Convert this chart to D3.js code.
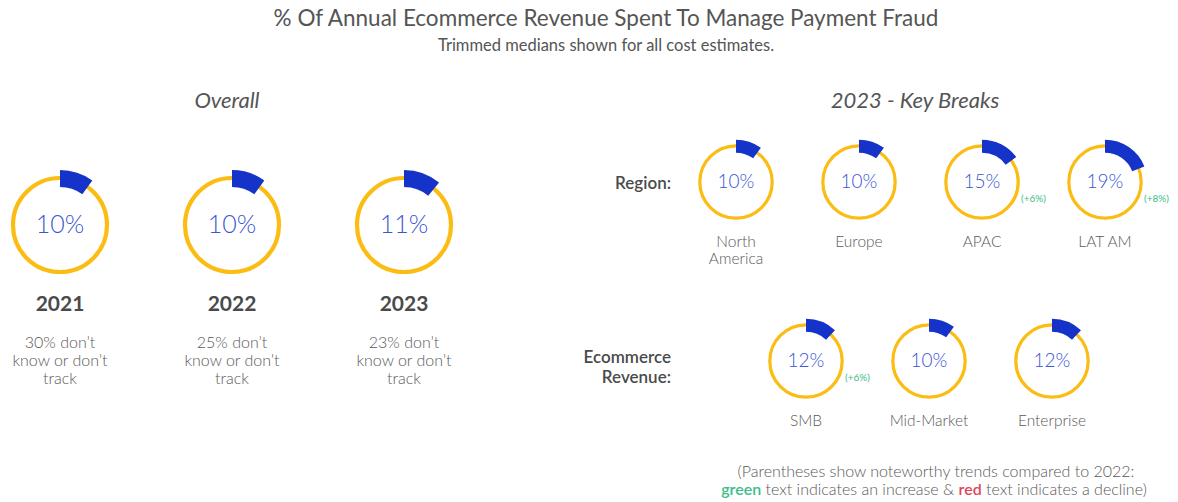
<!DOCTYPE html>
<html>
<head>
<meta charset="utf-8">
<script src="https://cdn.jsdelivr.net/npm/d3@7"></script>
<style>
  body { margin: 0; background: #fff; }
  svg text { font-family: Lato, "Open Sans", sans-serif; }
</style>
</head>
<body>
<svg id="chart" width="1178" height="502"></svg>
<script>
const width = 1178, height = 502;

// overall, by year
const years = ["2021", "2022", "2023"];
const overallValues = [10, 10, 11];
const dontKnow = ["30%", "25%", "23%"];

// 2023 key breaks
const regions = ["North America", "Europe", "APAC", "LAT AM"];
const regionValues = [10, 10, 15, 19];
const regionTrends = [null, null, "+6%", "+8%"];

const revenueBands = ["SMB", "Mid-Market", "Enterprise"];
const revenueValues = [12, 10, 12];
const revenueTrends = ["+6%", null, null];

const yellow = "#FBBC14", blue = "#1533C9", pctBlue = "#3A55D6",
      green = "#3CBD8A", red = "#E2445C", grey = "#595959";

const svg = d3.select("#chart");

const angle = d3.scaleLinear().domain([0, 100]).range([0, 2 * Math.PI]);

// title
svg.append("text")
    .attr("x", 606).attr("y", 26)
    .attr("text-anchor", "middle")
    .style("font-size", "22.5px")
    .style("fill", "#555")
    .text("% Of Annual Ecommerce Revenue Spent To Manage Payment Fraud");
svg.append("text")
    .attr("x", 606).attr("y", 51)
    .attr("text-anchor", "middle")
    .style("font-size", "16.5px")
    .style("fill", "#555")
    .text("Trimmed medians shown for all cost estimates.");

svg.append("text")
    .attr("x", 227).attr("y", 108)
    .attr("text-anchor", "middle")
    .style("font-size", "22px").style("font-style", "italic")
    .style("fill", "#555")
    .text("Overall");
svg.append("text")
    .attr("x", 915).attr("y", 108)
    .attr("text-anchor", "middle")
    .style("font-size", "22px").style("font-style", "italic")
    .style("fill", "#555")
    .text("2023 - Key Breaks");

// one donut: thin yellow ring + thicker blue arc for the share
function donut(g, value, k, fontSize) {
    g.append("circle")
        .attr("r", 47 * k)
        .attr("fill", "none")
        .attr("stroke", yellow)
        .attr("stroke-width", 4.2 * k);
    g.append("path")
        .attr("d", d3.arc()
            .innerRadius(38 * k)
            .outerRadius(55 * k)
            .startAngle(0)
            .endAngle(angle(value))())
        .attr("fill", blue);
    g.append("text")
        .attr("y", fontSize * 0.33)
        .attr("text-anchor", "middle")
        .style("font-size", fontSize + "px")
        .style("font-weight", 300)
        .style("fill", pctBlue)
        .text(value + "%");
}

// overall row
const xOverall = d3.scalePoint().domain(years).range([60, 404]);

const overall = svg.selectAll(".overall")
    .data(years)
    .enter().append("g")
    .attr("class", "overall")
    .attr("transform", d => `translate(${xOverall(d)},225)`);

overall.each(function(d, i) {
    const g = d3.select(this);
    donut(g, overallValues[i], 1, 25);
    g.append("text")
        .attr("y", 86)
        .attr("text-anchor", "middle")
        .style("font-size", "21px").style("font-weight", 700)
        .style("fill", "#4a4a4a")
        .text(d);
    const lines = [dontKnow[i] + " don\u2019t", "know or don\u2019t", "track"];
    g.append("text")
        .attr("text-anchor", "middle")
        .style("font-size", "16px").style("font-weight", 300)
        .style("fill", grey)
        .selectAll("tspan")
        .data(lines)
        .enter().append("tspan")
        .attr("x", 0)
        .attr("y", (l, j) => 123 + j * 18)
        .text(l => l);
});

// small donut rows
function smallRow(cats, values, trends, x0, cy) {
    const x = d3.scalePoint().domain(cats).range([x0, x0 + 123 * (cats.length - 1)]);
    const g = svg.selectAll(null)
        .data(cats)
        .enter().append("g")
        .attr("transform", d => `translate(${x(d)},${cy})`);
    g.each(function(d, i) {
        const s = d3.select(this);
        donut(s, values[i], 0.77, 19);
        const words = d === "North America" ? ["North", "America"] : [d];
        s.append("text")
            .attr("text-anchor", "middle")
            .style("font-size", "15.5px").style("font-weight", 300)
            .style("fill", grey)
            .selectAll("tspan")
            .data(words)
            .enter().append("tspan")
            .attr("x", 0)
            .attr("y", (w, j) => 65 + j * 17)
            .text(w => w);
        if (trends[i]) {
            s.append("text")
                .attr("x", 39).attr("y", 20)
                .style("font-size", "10px")
                .style("fill", trends[i][0] === "+" ? green : red)
                .text("(" + trends[i] + ")");
        }
    });
}

smallRow(regions, regionValues, regionTrends, 736, 182);
smallRow(revenueBands, revenueValues, revenueTrends, 806, 361);

svg.append("text")
    .attr("x", 671).attr("y", 189)
    .attr("text-anchor", "end")
    .style("font-size", "17px").style("font-weight", 600)
    .style("fill", "#4a4a4a")
    .text("Region:");
svg.append("text")
    .attr("text-anchor", "end")
    .style("font-size", "17px").style("font-weight", 600)
    .style("fill", "#4a4a4a")
    .selectAll("tspan")
    .data(["Ecommerce", "Revenue:"])
    .enter().append("tspan")
    .attr("x", 671)
    .attr("y", (d, i) => 363 + i * 20)
    .text(d => d);

// footnote
const note = svg.append("text")
    .attr("text-anchor", "middle")
    .style("font-size", "16px").style("font-weight", 300)
    .style("fill", grey);
note.append("tspan").attr("x", 936).attr("y", 477)
    .text("(Parentheses show noteworthy trends compared to 2022:");
const l2 = note.append("tspan").attr("x", 934).attr("y", 495);
l2.append("tspan").style("fill", green).style("font-weight", 600).text("green");
l2.append("tspan").text(" text indicates an increase & ");
l2.append("tspan").style("fill", red).style("font-weight", 600).text("red");
l2.append("tspan").text(" text indicates a decline)");
</script>
</body>
</html>
